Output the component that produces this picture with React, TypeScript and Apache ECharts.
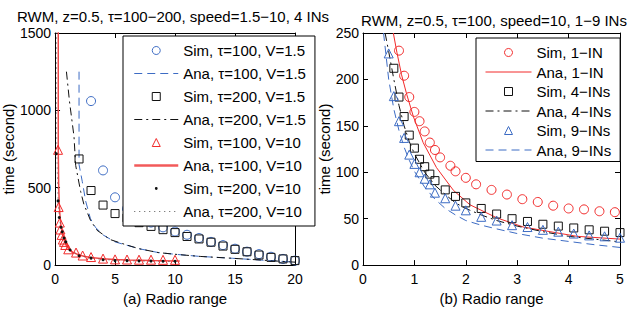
import React, { useEffect, useRef } from "react";
import * as echarts from "echarts";

// ---------- (a) left panel data ----------
const simT100V15X = [3, 4, 5, 6, 7, 8, 9, 10, 11, 12, 13, 14, 15, 16, 17, 18, 19, 20];
const simT100V15Y = [1060, 612, 438, 364, 310, 275, 244, 217, 196, 175, 150, 129, 106, 87, 71, 54, 40, 29];

const anaT100V15X = [2, 2, 2.27, 2.55, 2.95, 3.36, 4, 5, 6, 7, 8.6, 10, 12.1, 14.8, 17.9, 20];
const anaT100V15Y = [1250, 650, 540, 414, 300, 245, 195, 150, 128, 106, 81, 70, 56, 44, 29, 19];

const simT200V15X = [2, 3, 4, 5, 6, 7, 8, 9, 10, 11, 12, 13, 14, 15, 16, 17, 18, 19, 20];
const simT200V15Y = [686, 482, 388, 333, 305, 274, 250, 229, 210, 185, 169, 148, 123, 102, 86, 65, 50, 40, 29];

const anaT200V15X = [0.95, 1.2, 1.58, 1.72, 2.13, 2.4, 2.95, 3.5, 4.6, 5.85, 7, 8.6, 10, 12.1, 14.8, 17.9, 20];
const anaT200V15Y = [1250, 1060, 831, 644, 477, 394, 290, 225, 165, 133, 106, 81, 70, 56, 44, 29, 19];

const simT100V10X = [0.25, 0.3, 0.4, 0.45, 0.55, 0.65, 0.75, 0.85, 1.1, 1.75, 2.3, 3, 4, 5, 6, 7, 8, 9, 10];
const simT100V10Y = [745, 375, 275, 230, 195, 165, 150, 130, 102, 81, 62, 52, 42, 37, 36, 35, 35, 34, 34];

const anaT100V10X = [0.27, 0.27, 0.3, 0.35, 0.4, 0.5, 0.6, 0.7, 0.8, 1, 1.25, 1.5, 2, 2.5, 3, 4, 5, 6, 7, 8, 9, 10, 10.4];
const anaT100V10Y = [1600, 740, 520, 400, 330, 250, 205, 175, 150, 118, 95, 82, 65, 55, 49, 41, 36, 33, 31, 29, 28, 27, 27];

const simT200V10X = [0.1, 0.25, 0.35, 0.5, 0.6, 0.75, 0.9, 1.25, 2, 3, 4, 5, 6, 7, 8, 9, 10];
const simT200V10Y = [720, 415, 308, 245, 215, 175, 150, 98, 60, 45, 35, 29, 29, 27, 26, 25, 25];

const anaT200V10X = [0.12, 0.12, 0.15, 0.25, 0.35, 0.5, 0.65, 0.8, 1, 1.25, 1.5, 2, 3, 4, 5, 6, 7, 8, 9, 10];
const anaT200V10Y = [1600, 900, 700, 420, 310, 240, 190, 155, 125, 100, 85, 62, 45, 36, 31, 28, 26, 25, 24, 23];

// ---------- (b) right panel data ----------
const sim1X = [0.7, 0.8, 0.9, 1.0, 1.1, 1.2, 1.3, 1.4, 1.5, 1.7, 1.8, 2.0, 2.2, 2.5, 2.8, 3.1, 3.4, 3.7, 4.0, 4.3, 4.6, 4.9];
const sim1Y = [231, 204, 181, 165, 155, 144, 132, 124, 116, 107, 101, 94, 87, 81, 76, 71, 68, 64, 61, 60, 58, 57];

const ana1X = [0.59, 0.66, 0.75, 0.85, 0.98, 1.17, 1.43, 1.76, 2.08, 2.6, 3.12, 3.64, 4.16, 5];
const ana1Y = [250, 229, 205, 184, 160, 132, 105, 80.5, 65, 51, 41, 36, 31, 28];

const sim4X = [0.6, 0.7, 0.8, 0.9, 1.0, 1.1, 1.2, 1.3, 1.4, 1.6, 1.8, 2.0, 2.3, 2.6, 2.9, 3.2, 3.5, 3.8, 4.1, 4.4, 4.7, 5.0];
const sim4Y = [212, 181, 160, 140, 126, 114, 106, 98, 91, 81, 74, 67, 61, 55, 50, 47, 44, 42, 40, 38, 36.5, 35];

const ana4X = [0.43, 0.5, 0.6, 0.7, 0.8, 0.9, 1.0, 1.2, 1.4, 1.6, 1.8, 2.0, 2.3, 2.6, 3.0, 3.5, 4.0, 4.5, 5.0];
const ana4Y = [250, 230, 200, 172, 150, 133, 120, 100, 86, 76, 67, 61, 54, 48, 42, 36, 31, 28, 25];

const sim9X = [0.5, 0.6, 0.7, 0.8, 0.9, 1.0, 1.1, 1.2, 1.3, 1.4, 1.6, 1.8, 2.0, 2.3, 2.6, 2.9, 3.2, 3.5, 3.8, 4.1, 4.4, 4.7, 5.0];
const sim9Y = [228, 182, 155, 137, 119, 109, 100, 93, 87, 78, 72, 64, 59, 52, 48, 43, 41, 38, 36, 34, 32, 31, 29.5];

const ana9X = [0.4, 0.5, 0.6, 0.7, 0.8, 0.9, 1.0, 1.2, 1.4, 1.6, 1.8, 2.0, 2.3, 2.6, 3.0, 3.5, 4.0, 4.5, 5.0];
const ana9Y = [250, 200, 168, 145, 127, 113, 101, 84, 71, 61, 54, 48, 43, 39, 34, 29, 25.5, 22, 19];

// ---------- texts ----------
const titleA = "RWM, z=0.5, τ=100−200, speed=1.5−10, 4 INs";
const titleB = "RWM, z=0.5, τ=100, speed=10, 1−9 INs";
const xNameA = "(a) Radio range";
const xNameB = "(b) Radio range";
const yName = "time (second)";
const legendA = [
  "Sim, τ=100, V=1.5",
  "Ana, τ=100, V=1.5",
  "Sim, τ=200, V=1.5",
  "Ana, τ=200, V=1.5",
  "Sim, τ=100, V=10",
  "Ana, τ=100, V=10",
  "Sim, τ=200, V=10",
  "Ana, τ=200, V=10",
];
const legendB = ["Sim, 1−IN", "Ana, 1−IN", "Sim, 4−INs", "Ana, 4−INs", "Sim, 9−INs", "Ana, 9−INs"];

const FONT = '"Liberation Sans", Arial, Helvetica, sans-serif';
const BLUE = "#3d6cc4";
const RED = "#f22a2a";
const LIGHTRED = "#f25a5a";
const BLACK = "#111111";
const DASH: number[] = [8, 5];
const DASHDOT: number[] = [8, 4, 2, 4];
const DOT: number[] = [1, 4];

const pairs = (xs: number[], ys: number[]) => xs.map((x, i) => [x, ys[i]]);

function markerSeries(name: string, xs: number[], ys: number[], symbol: string, color: string, size: number, axis: number) {
  return {
    type: "line",
    name,
    xAxisIndex: axis,
    yAxisIndex: axis,
    data: pairs(xs, ys),
    symbol,
    symbolSize: size,
    showSymbol: true,
    itemStyle: { color: "rgba(0,0,0,0)", borderColor: color, borderWidth: 1 },
    lineStyle: { opacity: 0, width: 1, color },
    z: 3,
  };
}

function lineSeries(name: string, xs: number[], ys: number[], color: string, type: any, axis: number, width = 1) {
  return {
    type: "line",
    name,
    xAxisIndex: axis,
    yAxisIndex: axis,
    data: pairs(xs, ys),
    symbol: "none",
    showSymbol: false,
    itemStyle: { color, opacity: 0 },
    lineStyle: { color, width, type, opacity: 1 },
    z: 2,
  };
}

const lineLegend = (name: string, color: string, type: any, width = 1) => ({
  name,
  lineStyle: { color, type, width, opacity: 1 },
  itemStyle: { opacity: 0 },
});

const axisCommon = {
  axisLine: { onZero: false, lineStyle: { color: "#000", width: 1 } },
  axisTick: { inside: true, length: 5, lineStyle: { color: "#000" } },
  splitLine: { show: false },
};
const labelStyle = { color: "#000", fontSize: 14, fontFamily: FONT, formatter: (v: number) => String(v) };
const nameStyle = { color: "#000", fontSize: 15, fontFamily: FONT };

function buildOption() {
  return {
    animation: false,
    backgroundColor: "#fff",
    grid: [
      { left: 52, top: 33, width: 243, height: 240 },
      { left: 363, top: 33, width: 257, height: 241 },
    ],
    xAxis: [
      { ...axisCommon, gridIndex: 0, type: "value", min: 0, max: 20, interval: 5, position: "bottom",
        name: xNameA, nameLocation: "middle", nameGap: 23, nameTextStyle: nameStyle,
        axisLabel: { ...labelStyle, margin: 7 } },
      { ...axisCommon, gridIndex: 0, type: "value", min: 0, max: 20, interval: 5, position: "top", axisLabel: { show: false } },
      { ...axisCommon, gridIndex: 1, type: "value", min: 0, max: 5, interval: 1, position: "bottom",
        name: xNameB, nameLocation: "middle", nameGap: 23, nameTextStyle: nameStyle,
        axisLabel: { ...labelStyle, margin: 7 } },
      { ...axisCommon, gridIndex: 1, type: "value", min: 0, max: 5, interval: 1, position: "top", axisLabel: { show: false } },
    ],
    yAxis: [
      { ...axisCommon, gridIndex: 0, type: "value", min: 0, max: 1500, interval: 500, position: "left",
        name: yName, nameLocation: "middle", nameGap: 30, nameTextStyle: nameStyle,
        axisLabel: { ...labelStyle, margin: 4 } },
      { ...axisCommon, gridIndex: 0, type: "value", min: 0, max: 1500, interval: 500, position: "right", axisLabel: { show: false } },
      { ...axisCommon, gridIndex: 1, type: "value", min: 0, max: 250, interval: 50, position: "left",
        name: yName, nameLocation: "middle", nameGap: 30, nameTextStyle: nameStyle,
        axisLabel: { ...labelStyle, margin: 4 } },
      { ...axisCommon, gridIndex: 1, type: "value", min: 0, max: 250, interval: 50, position: "right", axisLabel: { show: false } },
    ],
    legend: [
      {
        data: [
          { name: legendA[0] },
          lineLegend(legendA[1], BLUE, DASH),
          { name: legendA[2] },
          lineLegend(legendA[3], BLACK, DASHDOT),
          { name: legendA[4] },
          lineLegend(legendA[5], LIGHTRED, "solid", 2.5),
          { name: legendA[6], icon: "path://M0 0M10 10M3.6 5a1.4 1.4 0 1 0 2.8 0a1.4 1.4 0 1 0 -2.8 0Z", itemStyle: { opacity: 1 } },
          lineLegend(legendA[7], "#555", DOT),
        ],
        left: 123, top: 36, orient: "vertical",
        itemWidth: 44, itemHeight: 10, itemGap: 8,
        padding: [7, 9, 7, 10],
        borderColor: "#000", borderWidth: 1, backgroundColor: "#fff", borderRadius: 0,
        textStyle: { color: "#000", fontSize: 15, lineHeight: 14, fontFamily: FONT },
        lineStyle: { width: 1 }, itemStyle: { borderWidth: 1 },
        selectedMode: false, z: 10,
      },
      {
        data: [
          { name: legendB[0] },
          lineLegend(legendB[1], RED, "solid"),
          { name: legendB[2] },
          lineLegend(legendB[3], BLACK, DASHDOT),
          { name: legendB[4] },
          lineLegend(legendB[5], BLUE, DASH),
        ],
        left: 476, top: 38, orient: "vertical",
        itemWidth: 46, itemHeight: 10, itemGap: 4.5,
        padding: [7, 9, 4, 9],
        borderColor: "#000", borderWidth: 1, backgroundColor: "#fff", borderRadius: 0,
        textStyle: { color: "#000", fontSize: 15, lineHeight: 14, fontFamily: FONT },
        lineStyle: { width: 1 }, itemStyle: { borderWidth: 1 },
        selectedMode: false, z: 10,
      },
    ],
    graphic: [
      { type: "text", x: 173, y: 16, style: { text: titleA, font: `15px ${FONT}`, fill: "#000", align: "center", verticalAlign: "middle", textAlign: "center", textVerticalAlign: "middle" } },
      { type: "text", x: 494, y: 20, style: { text: titleB, font: `15px ${FONT}`, fill: "#000", align: "center", verticalAlign: "middle", textAlign: "center", textVerticalAlign: "middle" } },
    ],
    series: [
      markerSeries(legendA[0], simT100V15X, simT100V15Y, "circle", BLUE, 9, 0),
      lineSeries(legendA[1], anaT100V15X, anaT100V15Y, BLUE, DASH, 0),
      markerSeries(legendA[2], simT200V15X, simT200V15Y, "rect", BLACK, 8, 0),
      lineSeries(legendA[3], anaT200V15X, anaT200V15Y, BLACK, DASHDOT, 0),
      markerSeries(legendA[4], simT100V10X, simT100V10Y, "triangle", RED, 9, 0),
      lineSeries(legendA[5], anaT100V10X, anaT100V10Y, "#f04848", "solid", 0, 1.5),
      {
        type: "line", name: legendA[6], xAxisIndex: 0, yAxisIndex: 0,
        data: pairs(simT200V10X, simT200V10Y), symbol: "circle", symbolSize: 3, showSymbol: true,
        itemStyle: { color: BLACK }, lineStyle: { opacity: 0, width: 1 }, z: 4,
      },
      lineSeries(legendA[7], anaT200V10X, anaT200V10Y, "#555", DOT, 0),

      markerSeries(legendB[0], sim1X, sim1Y, "circle", RED, 9, 2),
      lineSeries(legendB[1], ana1X, ana1Y, RED, "solid", 2),
      markerSeries(legendB[2], sim4X, sim4Y, "rect", BLACK, 8, 2),
      lineSeries(legendB[3], ana4X, ana4Y, BLACK, DASHDOT, 2),
      markerSeries(legendB[4], sim9X, sim9Y, "triangle", BLUE, 9, 2),
      lineSeries(legendB[5], ana9X, ana9Y, BLUE, DASH, 2),
    ],
  };
}

export default function App() {
  const ref = useRef<HTMLDivElement>(null);
  useEffect(() => {
    if (!ref.current) return;
    const chart = echarts.init(ref.current, null, { renderer: "svg" });
    chart.setOption(buildOption() as any);
    return () => chart.dispose();
  }, []);
  return (
    <div
      ref={ref}
      style={{ position: "fixed", left: 0, top: 0, width: 629, height: 311, background: "#fff" }}
    />
  );
}
